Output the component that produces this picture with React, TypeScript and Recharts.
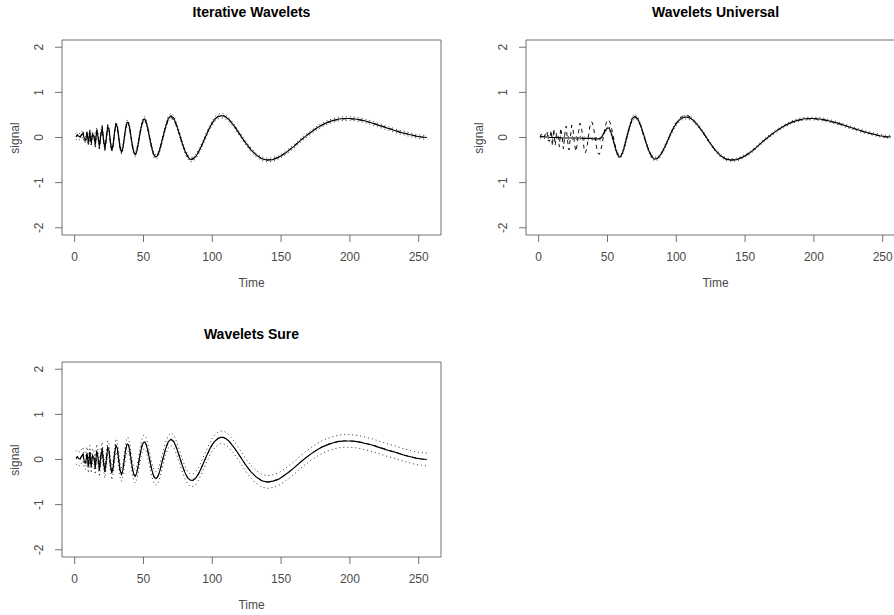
import React from 'react';
import { LineChart, Line, XAxis, YAxis, ReferenceArea } from 'recharts';

const timeGrid = [
  1, 2, 3, 4, 5, 6, 7, 8, 9, 10, 11, 12, 13, 14, 15, 16,
  17, 18, 19, 20, 21, 22, 23, 24, 25, 26, 27, 28, 29, 30, 31, 32,
  33, 34, 35, 36, 37, 38, 39, 40, 41, 42, 43, 44, 45, 46, 47, 48,
  49, 50, 51, 52, 53, 54, 55, 56, 57, 58, 59, 60, 61, 62, 63, 64,
  66, 68, 70, 72, 74, 76, 78, 80, 82, 84, 86, 88, 90, 92, 94, 96, 98, 100, 102, 104, 106, 108, 110, 112,
  116, 120, 124, 128, 132, 136, 140, 144, 148, 152, 156, 160, 164, 168, 172, 176, 180, 184,
  188, 192, 196, 200, 204, 208, 212, 216, 220, 224, 228, 232, 236, 240, 244, 248, 252, 256,
];

const trueSignal = [
  0.009, 0.075, 0.009, 0.0, 0.082, 0.144, -0.075, -0.081, 0.161, -0.188, 0.195, -0.179, 0.107, 0.043, -0.205, 0.21,
  0.031, -0.253, 0.077, 0.252, -0.08, -0.277, -0.014, 0.275, 0.191, -0.133, -0.307, -0.164, 0.133, 0.316, 0.248, 0.0,
  -0.246, -0.339, -0.241, -0.017, 0.21, 0.344, 0.334, 0.196, -0.009, -0.209, -0.341, -0.375, -0.309, -0.167, 0.012, 0.186,
  0.318, 0.389, 0.389, 0.323, 0.206, 0.061, -0.09, -0.229, -0.335, -0.401, -0.421, -0.396, -0.333, -0.239, -0.123, 0.0,
  0.232, 0.391, 0.446, 0.394, 0.259, 0.077, -0.115, -0.279, -0.404, -0.462, -0.464, -0.411, -0.317, -0.19, -0.051, 0.088, 0.218, 0.327, 0.412, 0.466, 0.491, 0.488, 0.459, 0.408,
  0.259, 0.075, -0.109, -0.272, -0.391, -0.47, -0.497, -0.484, -0.435, -0.36, -0.268, -0.167, -0.06, 0.039, 0.132, 0.214, 0.282, 0.335,
  0.375, 0.4, 0.412, 0.412, 0.401, 0.382, 0.355, 0.323, 0.287, 0.248, 0.208, 0.168, 0.13, 0.094, 0.061, 0.033, 0.012, 0.0,
];

const estIterative = [
  0.02, 0.05, 0.03, 0.01, 0.05, 0.09, -0.02, -0.05, 0.08, -0.1, 0.1, -0.11, 0.06, 0.03, -0.15, 0.16,
  0.02, -0.2, 0.06, 0.21, -0.06, -0.24, -0.02, 0.24, 0.18, -0.11, -0.28, -0.16, 0.12, 0.29, 0.24, 0.01,
  -0.22, -0.32, -0.24, -0.03, 0.19, 0.33, 0.33, 0.2, 0.0, -0.19, -0.33, -0.38, -0.32, -0.17, 0.01, 0.18,
  0.32, 0.4, 0.41, 0.34, 0.22, 0.07, -0.08, -0.22, -0.34, -0.41, -0.43, -0.41, -0.35, -0.25, -0.13, -0.01,
  0.23, 0.42, 0.48, 0.43, 0.28, 0.09, -0.11, -0.29, -0.42, -0.49, -0.48, -0.42, -0.32, -0.2, -0.06, 0.08, 0.21, 0.32, 0.41, 0.46, 0.48, 0.48, 0.45, 0.4,
  0.25, 0.07, -0.11, -0.27, -0.39, -0.47, -0.5, -0.49, -0.44, -0.37, -0.28, -0.18, -0.07, 0.03, 0.12, 0.21, 0.28, 0.34,
  0.38, 0.41, 0.42, 0.42, 0.41, 0.39, 0.36, 0.32, 0.28, 0.24, 0.2, 0.16, 0.12, 0.09, 0.06, 0.03, 0.01, 0.0,
];

const estUniversal = [
  0.02, 0.02, 0.02, 0.01, 0.01, 0.01, 0.01, 0.0, 0.0, 0.0, 0.0, 0.0, 0.0, 0.0, 0.0, 0.0,
  -0.01, -0.01, -0.01, -0.01, -0.01, -0.01, -0.01, -0.01, -0.01, -0.01, -0.01, -0.01, -0.01, -0.01, -0.01, -0.02,
  -0.02, -0.02, -0.02, -0.02, -0.02, -0.02, -0.03, -0.03, -0.03, -0.03, -0.03, -0.03, -0.02, 0.02, 0.07, 0.13,
  0.18, 0.21, 0.21, 0.16, 0.07, -0.04, -0.15, -0.26, -0.35, -0.41, -0.43, -0.4, -0.33, -0.24, -0.12, 0.0,
  0.23, 0.42, 0.47, 0.42, 0.28, 0.09, -0.11, -0.29, -0.42, -0.48, -0.47, -0.41, -0.31, -0.19, -0.05, 0.09, 0.21, 0.31, 0.38, 0.43, 0.45, 0.45, 0.43, 0.39,
  0.26, 0.09, -0.1, -0.27, -0.4, -0.48, -0.5, -0.49, -0.44, -0.37, -0.28, -0.17, -0.06, 0.04, 0.13, 0.21, 0.28, 0.34,
  0.38, 0.41, 0.42, 0.42, 0.41, 0.39, 0.36, 0.33, 0.29, 0.25, 0.21, 0.17, 0.13, 0.1, 0.07, 0.04, 0.02, 0.01,
];

const estSure = [
  0.03, 0.06, 0.02, 0.01, 0.07, 0.12, -0.05, -0.07, 0.13, -0.15, 0.16, -0.15, 0.09, 0.04, -0.18, 0.19,
  0.03, -0.23, 0.07, 0.23, -0.07, -0.26, -0.01, 0.26, 0.19, -0.12, -0.3, -0.17, 0.13, 0.31, 0.25, 0.0,
  -0.24, -0.33, -0.24, -0.02, 0.2, 0.34, 0.33, 0.2, 0.0, -0.2, -0.33, -0.37, -0.31, -0.17, 0.01, 0.18,
  0.31, 0.38, 0.39, 0.33, 0.21, 0.07, -0.08, -0.22, -0.33, -0.4, -0.42, -0.4, -0.34, -0.24, -0.12, 0.0,
  0.23, 0.39, 0.45, 0.4, 0.26, 0.08, -0.11, -0.28, -0.4, -0.46, -0.46, -0.41, -0.32, -0.19, -0.05, 0.09, 0.22, 0.33, 0.41, 0.46, 0.49, 0.49, 0.46, 0.41,
  0.26, 0.08, -0.11, -0.27, -0.39, -0.47, -0.5, -0.48, -0.44, -0.36, -0.27, -0.17, -0.06, 0.04, 0.13, 0.21, 0.28, 0.33,
  0.37, 0.4, 0.41, 0.41, 0.4, 0.38, 0.35, 0.32, 0.28, 0.24, 0.2, 0.17, 0.13, 0.09, 0.06, 0.03, 0.01, 0.0,
];

const bandIterative = [
  0.07, 0.07, 0.07, 0.07, 0.07, 0.07, 0.07, 0.07, 0.07, 0.07, 0.07, 0.07, 0.07, 0.07, 0.07, 0.07,
  0.07, 0.07, 0.07, 0.07, 0.05, 0.05, 0.05, 0.05, 0.05, 0.05, 0.05, 0.05, 0.05, 0.05, 0.05, 0.05,
  0.05, 0.05, 0.05, 0.05, 0.05, 0.05, 0.05, 0.05, 0.05, 0.05, 0.05, 0.05, 0.05, 0.05, 0.05, 0.05,
  0.05, 0.05, 0.05, 0.05, 0.05, 0.05, 0.05, 0.05, 0.05, 0.05, 0.05, 0.05, 0.05, 0.05, 0.05, 0.05,
  0.05, 0.06, 0.06, 0.05, 0.05, 0.05, 0.05, 0.05, 0.05, 0.05, 0.05, 0.05, 0.05, 0.05, 0.05, 0.05, 0.05, 0.05, 0.05, 0.05, 0.05, 0.05, 0.05, 0.05,
  0.04, 0.04, 0.04, 0.04, 0.04, 0.04, 0.04, 0.04, 0.04, 0.04, 0.04, 0.04, 0.04, 0.04, 0.04, 0.04, 0.04, 0.04,
  0.04, 0.04, 0.04, 0.04, 0.04, 0.04, 0.04, 0.04, 0.04, 0.04, 0.04, 0.04, 0.04, 0.04, 0.04, 0.04, 0.04, 0.04,
];

const bandUniversal = [
  0.03, 0.03, 0.03, 0.03, 0.03, 0.03, 0.03, 0.03, 0.03, 0.03, 0.03, 0.03, 0.03, 0.03, 0.03, 0.03,
  0.03, 0.03, 0.03, 0.03, 0.03, 0.03, 0.03, 0.03, 0.03, 0.03, 0.03, 0.03, 0.03, 0.03, 0.03, 0.03,
  0.03, 0.03, 0.03, 0.03, 0.03, 0.03, 0.03, 0.03, 0.03, 0.03, 0.03, 0.03, 0.04, 0.04, 0.04, 0.04,
  0.04, 0.04, 0.04, 0.04, 0.04, 0.04, 0.04, 0.04, 0.04, 0.04, 0.04, 0.04, 0.04, 0.04, 0.04, 0.04,
  0.04, 0.05, 0.05, 0.04, 0.04, 0.04, 0.04, 0.04, 0.04, 0.04, 0.04, 0.04, 0.04, 0.04, 0.04, 0.04, 0.04, 0.04, 0.04, 0.04, 0.04, 0.04, 0.04, 0.04,
  0.03, 0.03, 0.03, 0.03, 0.03, 0.03, 0.03, 0.03, 0.03, 0.03, 0.03, 0.03, 0.03, 0.03, 0.03, 0.03, 0.03, 0.03,
  0.03, 0.03, 0.03, 0.03, 0.03, 0.03, 0.03, 0.03, 0.03, 0.03, 0.03, 0.03, 0.03, 0.03, 0.03, 0.03, 0.03, 0.03,
];

const bandSure = [
  0.15, 0.15, 0.15, 0.15, 0.15, 0.15, 0.15, 0.15, 0.15, 0.15, 0.15, 0.15, 0.15, 0.15, 0.15, 0.15,
  0.15, 0.15, 0.15, 0.15, 0.15, 0.15, 0.15, 0.15, 0.15, 0.15, 0.15, 0.15, 0.15, 0.15, 0.15, 0.15,
  0.15, 0.15, 0.15, 0.15, 0.15, 0.15, 0.15, 0.15, 0.15, 0.15, 0.15, 0.15, 0.15, 0.15, 0.15, 0.15,
  0.15, 0.15, 0.15, 0.15, 0.15, 0.15, 0.15, 0.15, 0.15, 0.15, 0.15, 0.15, 0.15, 0.15, 0.15, 0.15,
  0.14, 0.14, 0.14, 0.14, 0.14, 0.14, 0.14, 0.14, 0.14, 0.14, 0.14, 0.14, 0.14, 0.14, 0.14, 0.14, 0.14, 0.14, 0.14, 0.14, 0.14, 0.14, 0.14, 0.14,
  0.14, 0.14, 0.14, 0.14, 0.14, 0.14, 0.14, 0.14, 0.14, 0.14, 0.14, 0.14, 0.14, 0.14, 0.14, 0.14, 0.14, 0.14,
  0.14, 0.14, 0.14, 0.14, 0.14, 0.14, 0.14, 0.14, 0.14, 0.14, 0.14, 0.14, 0.14, 0.14, 0.14, 0.14, 0.14, 0.14,
];

const xTicks = [0, 50, 100, 150, 200, 250];
const yTicks = [-2, -1, 0, 1, 2];
const xDomain: [number, number] = [-9.2, 266.2];
const yDomain: [number, number] = [-2.16, 2.16];

const FONT = '"Liberation Sans", Arial, Helvetica, sans-serif';
const TEXT = '#4a4a4a';
const AXIS = '#707070';

const YTick = (props: any) => {
  const { x, y, payload } = props;
  return (
    <text
      x={x}
      y={y}
      transform={`rotate(-90 ${x} ${y})`}
      textAnchor="middle"
      fontSize={12}
      fontFamily={FONT}
      fill={TEXT}
    >
      {payload.value}
    </text>
  );
};

const PW = 447;
const PH = 300;

function Panel(props: { left: number; top: number; title: string; est: number[]; band: number[] }) {
  const { left, top, title, est, band } = props;
  const data = timeGrid.map((t, i) => ({
    t,
    truth: trueSignal[i],
    est: est[i],
    lo: est[i] - band[i],
    hi: est[i] + band[i],
  }));
  const cx = (62 + 441) / 2;
  return (
    <div style={{ position: 'absolute', left, top, width: PW, height: PH }}>
      <LineChart width={PW} height={PH} data={data} margin={{ top: 40, right: 6, bottom: 0, left: 0 }}>
        <XAxis
          dataKey="t"
          type="number"
          domain={xDomain}
          ticks={xTicks}
          interval={0}
          allowDataOverflow
          axisLine={false}
          tickLine={{ stroke: AXIS }}
          tickSize={7}
          tickMargin={10}
          height={65}
          tick={{ fontSize: 12, fill: TEXT, fontFamily: FONT }}
        />
        <YAxis
          type="number"
          domain={yDomain}
          ticks={yTicks}
          interval={0}
          allowDataOverflow
          axisLine={false}
          tickLine={{ stroke: AXIS }}
          tickSize={7}
          tickMargin={12}
          width={62}
          tick={<YTick />}
        />
        <ReferenceArea
          x1={xDomain[0]}
          x2={xDomain[1]}
          y1={yDomain[0]}
          y2={yDomain[1]}
          fill="none"
          fillOpacity={0}
          stroke={AXIS}
          strokeWidth={1}
          ifOverflow="visible"
        />
        <Line type="linear" dataKey="hi" stroke="#333" strokeWidth={1} strokeDasharray="1 3" dot={false} isAnimationActive={false} />
        <Line type="linear" dataKey="lo" stroke="#333" strokeWidth={1} strokeDasharray="1 3" dot={false} isAnimationActive={false} />
        <Line type="linear" dataKey="truth" stroke="#111" strokeWidth={1} strokeDasharray="4 4" dot={false} isAnimationActive={false} />
        <Line type="linear" dataKey="est" stroke="#000" strokeWidth={1.15} dot={false} isAnimationActive={false} />
      </LineChart>
      <div
        style={{
          position: 'absolute', left: cx, top: 12, transform: 'translate(-50%, -50%)',
          fontFamily: FONT, fontWeight: 'bold', fontSize: 14, color: '#000', whiteSpace: 'nowrap', lineHeight: 1,
        }}
      >
        {title}
      </div>
      <div
        style={{
          position: 'absolute', left: cx, top: 283, transform: 'translate(-50%, -50%)',
          fontFamily: FONT, fontSize: 12, color: TEXT, whiteSpace: 'nowrap', lineHeight: 1,
        }}
      >
        Time
      </div>
      <div
        style={{
          position: 'absolute', left: 14.5, top: 137.5, transform: 'translate(-50%, -50%) rotate(-90deg)',
          fontFamily: FONT, fontSize: 12, color: TEXT, whiteSpace: 'nowrap', lineHeight: 1,
        }}
      >
        signal
      </div>
    </div>
  );
}

export default function App() {
  return (
    <div
      style={{
        position: 'absolute', left: 0, top: 0, width: 894, height: 615,
        overflow: 'hidden', background: '#fff',
      }}
    >
      <Panel left={0} top={0} title="Iterative Wavelets" est={estIterative} band={bandIterative} />
      <Panel left={464} top={0} title="Wavelets Universal" est={estUniversal} band={bandUniversal} />
      <Panel left={0} top={322} title="Wavelets Sure" est={estSure} band={bandSure} />
    </div>
  );
}
